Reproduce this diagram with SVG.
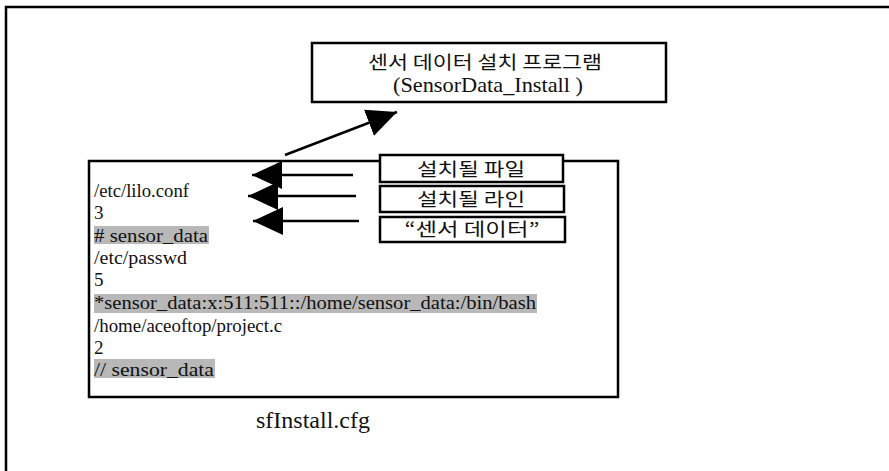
<svg xmlns="http://www.w3.org/2000/svg" width="889" height="471" viewBox="0 0 889 471">
<style>
.box{fill:#fff;stroke:#000;stroke-width:2.5}
.frame{fill:none;stroke:#000;stroke-width:2.5}
.ko{font-family:'Noto Sans CJK KR','Noto Sans',sans-serif;font-size:18px;fill:#111}
.en{font-size:19px;fill:#111}
.big{font-size:24px}
.mid{font-size:21px}
.hl{fill:#b8b8b8}
.conn{stroke:#000;stroke-width:2.5;fill:none;marker-end:url(#ah)}
</style>
<defs>
<marker id="ah" markerUnits="userSpaceOnUse" markerWidth="32" markerHeight="28" refX="30" refY="14" orient="auto" viewBox="0 0 32 28">
<path d="M0,0 L30,14 L0,28 Z" fill="#000"/>
</marker>
</defs>
<rect x="0" y="0" width="889" height="471" fill="#fff"/>
<rect class="frame" x="6" y="7" width="900" height="480"/>
<g id="program">
<rect class="box" x="312" y="43" width="354" height="59"/>
<text class="ko" x="368" y="69" textLength="234" lengthAdjust="spacingAndGlyphs">센서 데이터 설치 프로그램</text>
<text class="en mid" font-family="Liberation Serif, serif" x="393" y="92" textLength="190" lengthAdjust="spacingAndGlyphs">(SensorData_Install )</text>
</g>
<g id="cfgfile" font-family="Liberation Serif, serif">
<rect class="box" x="89" y="161" width="529" height="236"/>
<rect class="hl" x="94" y="226" width="115" height="18"/>
<rect class="hl" x="94" y="294" width="443" height="19"/>
<rect class="hl" x="94" y="359" width="121" height="19"/>
<text class="en" x="94" y="197" textLength="95" lengthAdjust="spacingAndGlyphs">/etc/lilo.conf</text>
<text class="en" x="94" y="219">3</text>
<text class="en" x="94" y="242" textLength="114" lengthAdjust="spacingAndGlyphs"># sensor_data</text>
<text class="en" x="94" y="264" textLength="93" lengthAdjust="spacingAndGlyphs">/etc/passwd</text>
<text class="en" x="94" y="286">5</text>
<text class="en" x="94" y="309" textLength="442" lengthAdjust="spacingAndGlyphs">*sensor_data:x:511:511::/home/sensor_data:/bin/bash</text>
<text class="en" x="94" y="332" textLength="188" lengthAdjust="spacingAndGlyphs">/home/aceoftop/project.c</text>
<text class="en" x="94" y="354">2</text>
<text class="en" x="94" y="376" textLength="120" lengthAdjust="spacingAndGlyphs">// sensor_data</text>
</g>
<g id="caption" font-family="Liberation Serif, serif">
<text class="en big" x="313" y="428" text-anchor="middle">sfInstall.cfg</text>
</g>
<g id="label-file">
<rect class="box" x="380" y="155" width="183" height="27"/>
<text class="ko" x="471" y="176" text-anchor="middle" textLength="108" lengthAdjust="spacingAndGlyphs">설치될 파일</text>
</g>
<g id="label-line">
<rect class="box" x="380" y="186" width="184" height="26"/>
<text class="ko" x="471" y="206" text-anchor="middle" textLength="108" lengthAdjust="spacingAndGlyphs">설치될 라인</text>
</g>
<g id="label-data">
<rect class="box" x="380" y="217" width="185" height="25"/>
<text class="ko" x="472" y="236" text-anchor="middle" textLength="135" lengthAdjust="spacingAndGlyphs">“센서 데이터”</text>
</g>
<g id="connectors">
<line class="conn" x1="285" y1="155" x2="397" y2="112"/>
<line class="conn" x1="353" y1="175" x2="252" y2="175"/>
<line class="conn" x1="356" y1="196" x2="248" y2="196"/>
<line class="conn" x1="359" y1="221" x2="253" y2="221"/>
</g>
</svg>
